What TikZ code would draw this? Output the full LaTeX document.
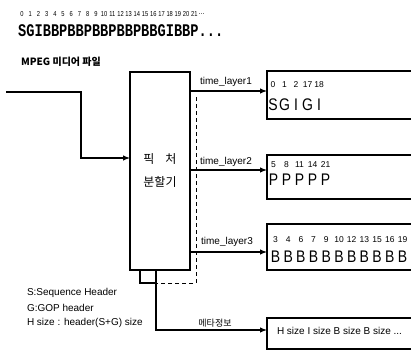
\documentclass[tikz,border=0pt]{standalone}
\usepackage{fontspec}
\setmainfont{Liberation Sans}
\newfontfamily\krfont{Noto Sans CJK KR}
\newfontfamily\slabfont{Liberation Mono}
\usetikzlibrary{arrows.meta}
\begin{document}
\begin{tikzpicture}[x=1pt,y=-1pt,
  ln/.style={line width=1.1pt},
  arr/.style={line width=1.1pt,-{Latex[length=7pt,width=5.5pt]}},
  txt/.style={inner sep=0pt,outer sep=0pt,font=\fontsize{10}{12}\selectfont},
  kr/.style={inner sep=0pt,outer sep=0pt,font=\krfont\fontsize{10}{12}\selectfont},
  seqnum/.style={inner sep=0pt,font=\fontsize{7.2}{8}\selectfont},
  boxnum/.style={inner sep=0pt,font=\fontsize{8.5}{9}\selectfont},
  boxlet/.style={inner sep=0pt,font=\fontsize{14}{14}\selectfont},
  holder/.style={inner sep=0pt,outer sep=0pt,minimum width=144pt,anchor=north west},
]
\useasboundingbox (0,0) rectangle (411,353);

% top sequence
\node[anchor=west,inner sep=0pt,font=\slabfont\bfseries\fontsize{13.67}{14}\selectfont] (seq) at (18,31) {\scalebox{1}[1.3]{SGIBBPBBPBBPBBPBBGIBBP...}};
\foreach \i in {0,...,21} \node[seqnum] (sn\i) at ({18+8.2*(\i+0.5)},14) {\scalebox{0.8}[1]{\i}};
\node[seqnum,anchor=west] (sndots) at ({18+8.2*22},14) {...};

\node[kr,anchor=west,font=\krfont\bfseries\fontsize{10}{12}\selectfont] (title) at (21,62) {MPEG 미디어 파일};

% splitter
\node[draw,ln,minimum width=60pt,minimum height=198pt,anchor=north west,inner sep=0pt,outer sep=0pt,align=center,font=\krfont\fontsize{12}{23}\selectfont] (split) at (130,72) {픽\hspace{11pt}처\\분할기};

% input
\coordinate (in) at (6,92);
\coordinate (inbend) at (81,158);
\draw[arr] (in) -| (inbend) -- (split.west |- inbend);

% output boxes (open to the right)
\node[holder,minimum height=48pt] (box1) at (267,71) {};
\node[holder,minimum height=44pt] (box2) at (267,155) {};
\node[holder,minimum height=46pt] (box3) at (267,224) {};
\node[holder,minimum height=31pt] (meta) at (267,318) {};
\foreach \b in {box1,box2,box3,meta}
  \draw[ln] (\b.north east) -- (\b.north west) -- (\b.south west) -- (\b.south east);

% time layer arrows
\coordinate (t1) at (190,91);
\coordinate (t2) at (190,170);
\coordinate (t3) at (190,252);
\draw[arr] (t1) -- (box1.west |- t1);
\draw[arr] (t2) -- (box2.west |- t2);
\draw[arr] (t3) -- (box3.west |- t3);
\node[txt] (l1) at (226,82) {time\_layer1};
\node[txt] (l2) at (226,162) {time\_layer2};
\node[txt] (l3) at (227,242) {time\_layer3};

% bottom tap of splitter
\node[draw,ln,minimum width=16pt,minimum height=13pt,anchor=north west,inner sep=0pt,outer sep=0pt] (sr) at (140,270) {};
\coordinate (d1) at (196,97);
\coordinate (d2) at (196,283);
\draw[dashed,line width=0.7pt,dash pattern=on 4pt off 3pt] (d1) -- (d2) -- (sr.south east);
\coordinate (mline) at (156,330);
\draw[arr] (sr.south east) -- (mline) -- (meta.west |- mline);
\node[kr,font=\krfont\fontsize{9}{10}\selectfont] (mlab) at (215,323) {메타정보};
\node[txt,anchor=west] (mtext) at (277,331) {H size I size B size B size ...};

% legend
\node[txt,anchor=west] (lg1) at (27,293) {S:Sequence Header};
\node[txt,anchor=west] (lg2) at (27,308) {G:GOP header};
\node[txt,anchor=west] (lg3) at (27,323) {H size : header(S+G) size};

% box contents
\foreach [count=\i] \x/\n/\c in {273/0/S,284.5/1/G,296/2/I,307.5/17/G,319/18/I} {
  \node[boxnum] (an\i) at (\x,85) {\n};
  \node[boxlet] (ac\i) at (\x,105) {\scalebox{1}[1.2]{\c}};
}
\foreach [count=\i] \n in {5,8,11,14,21} {
  \node[boxnum] (bn\i) at ({273.5+13*(\i-1)},165) {\n};
  \node[boxlet] (bc\i) at ({273.5+13*(\i-1)},180) {\scalebox{1}[1.2]{P}};
}
\foreach [count=\i] \n in {3,4,6,7,9,10,12,13,15,16,19} {
  \node[boxnum] (cn\i) at ({275.5+12.7*(\i-1)},240) {\n};
  \node[boxlet] (cc\i) at ({275.5+12.7*(\i-1)},257) {\scalebox{1}[1.2]{B}};
}
\end{tikzpicture}
\end{document}
